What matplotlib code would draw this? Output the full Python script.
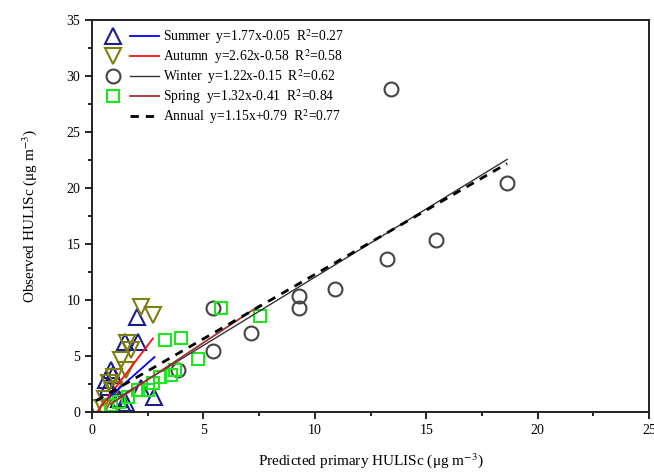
import numpy as np
import matplotlib
matplotlib.use('Agg')
import matplotlib.pyplot as plt
from matplotlib.lines import Line2D
from matplotlib.legend_handler import HandlerTuple
from matplotlib.ticker import MultipleLocator

plt.rcParams['font.family'] = ['Liberation Serif', 'DejaVu Serif']
plt.rcParams['mathtext.fontset'] = 'stix'

# values (predicted x, observed y)
summer_x = [2.02, 1.46, 2.08, 0.85, 0.63, 0.71, 2.80, 2.20, 1.53, 1.38, 0.95, 1.20]
summer_y = [8.50, 6.28, 6.28, 3.75, 2.86, 2.26, 1.37, 2.10, 0.78, 0.62, 3.30, 1.20]

autumn_x = [2.20, 2.73, 1.57, 1.73, 1.30, 1.53, 1.00, 0.78, 0.18, 0.48, 1.00, 0.60]
autumn_y = [9.40, 8.66, 6.13, 5.54, 4.64, 3.75, 3.15, 2.56, 0.33, 0.33, 1.96, 1.20]

winter_x = [13.40, 18.63, 15.45, 13.24, 10.91, 9.31, 9.31, 5.41, 7.12, 5.41, 3.85, 1.20]
winter_y = [28.90, 20.50, 15.40, 13.70, 10.98, 10.36, 9.26, 9.26, 7.10, 5.45, 3.75, 1.00]

spring_x = [5.79, 7.54, 3.28, 4.00, 4.75, 3.73, 3.56, 3.03, 2.73, 2.50, 2.05, 1.60, 1.23, 0.85]
spring_y = [9.26, 8.57, 6.43, 6.58, 4.70, 3.75, 3.30, 3.15, 2.56, 1.96, 1.96, 1.37, 0.92, 0.63]

# fit coefficients (slope, intercept, R2) from legend
fits = {
    'Summer': (1.77, -0.05, 0.27),
    'Autumn': (2.62, -0.58, 0.58),
    'Winter': (1.22, -0.15, 0.62),
    'Spring': (1.32, -0.41, 0.84),
    'Annual': (1.15, 0.79, 0.77),
}

fig = plt.figure(figsize=(6.54, 4.73), dpi=100)
ax = fig.add_axes([0.1407, 0.129, 0.8517, 0.8277])

ms = 10
h_su, = ax.plot(summer_x, summer_y, '^', ms=ms+1, mfc='none', mec='#1c1c8f', mew=1.5)
h_au, = ax.plot(autumn_x, autumn_y, 'v', ms=ms+1, mfc='none', mec='#7f7f10', mew=1.5)
h_wi, = ax.plot(winter_x, winter_y, 'o', ms=ms, mfc='none', mec='#444444', mew=1.5)
h_sp, = ax.plot(spring_x, spring_y, 's', ms=ms-1, mfc='none', mec='#1ee61e', mew=1.5)


def fitline(name, xs, **kw):
    a, b, r2 = fits[name]
    xx = np.array([min(xs), max(xs)])
    l, = ax.plot(xx, a*xx+b, **kw)
    return l


l_su = fitline('Summer', summer_x, color='#0000ff', lw=1.3)
l_au = fitline('Autumn', autumn_x, color='#ff1010', lw=1.3)
l_wi = fitline('Winter', winter_x, color='#333333', lw=1.0)
l_sp = fitline('Spring', spring_x, color='#a03030', lw=1.3)
l_an = fitline('Annual', winter_x + summer_x + autumn_x + spring_x,
               color='black', lw=2, ls=(0, (3, 2.5)))

def lab(name):
    a, b, r2 = fits[name]
    return f'{name}  y={a:.2f}x{b:+.2f}  R$^2$={r2:.2f}'

blank = Line2D([], [], ls='none')
handles = [(h_su, l_su), (h_au, l_au), (h_wi, l_wi), (h_sp, l_sp), (blank, l_an)]
labels = [lab(n) for n in ['Summer', 'Autumn', 'Winter', 'Spring', 'Annual']]
ax.legend(handles, labels, handler_map={tuple: HandlerTuple(ndivide=None, pad=0.2)},
          loc='upper left', frameon=False, fontsize=9.8, handlelength=4.4,
          handletextpad=0.3, labelspacing=0.08, borderaxespad=0.1)

ax.set_xlim(0, 25)
ax.set_ylim(0, 35)
ax.xaxis.set_major_locator(MultipleLocator(5))
ax.xaxis.set_minor_locator(MultipleLocator(2.5))
ax.yaxis.set_major_locator(MultipleLocator(5))
ax.yaxis.set_minor_locator(MultipleLocator(2.5))
ax.tick_params(which='both', direction='out', top=False, right=False, labelsize=10)
ax.tick_params(which='major', length=5, width=1.2)
ax.tick_params(which='minor', length=3, width=1.2)
for s in ax.spines.values():
    s.set_linewidth(1.4)
    s.set_color('#222222')

ax.set_xlabel('Predicted primary HULISc (μg m$^{-3}$)', fontsize=11, labelpad=10)
ax.set_ylabel('Observed HULISc (μg m$^{-3}$)', fontsize=11, labelpad=20)

fig.savefig('out.png', dpi=100)
